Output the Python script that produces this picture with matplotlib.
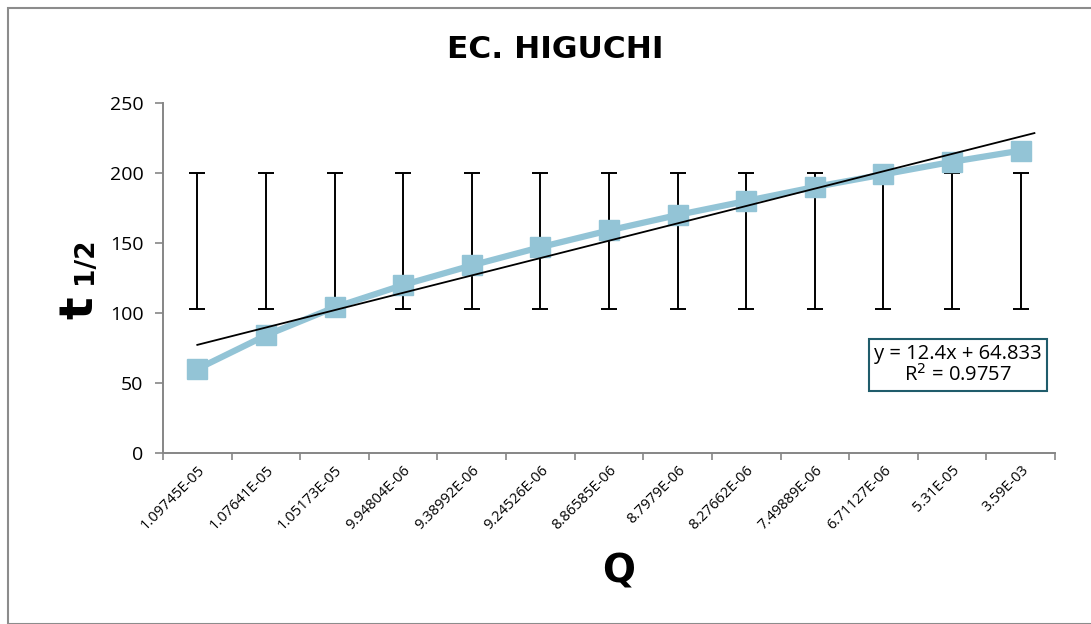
import matplotlib
matplotlib.use("Agg")
import matplotlib.pyplot as plt
import numpy as np
from matplotlib.patches import Rectangle

categories = ["1.09745E-05", "1.07641E-05", "1.05173E-05", "9.94804E-06", "9.38992E-06",
              "9.24526E-06", "8.86585E-06", "8.7979E-06", "8.27662E-06", "7.49889E-06",
              "6.71127E-06", "5.31E-05", "3.59E-03"]
t_half = [60, 84, 104, 120, 134, 147, 159, 170, 180, 190, 199, 208, 216]
err_low = [103] * 13
err_high = [200] * 13
slope = 12.4
intercept = 64.833
r2 = 0.9757

plt.rcParams['font.family'] = ['Open Sans', 'DejaVu Sans']

fig = plt.figure(figsize=(10.91, 6.24), dpi=100)
fig.patches.append(Rectangle((8/1091, 0.0), 1.2, 1 - 8/624, transform=fig.transFigure,
                             fill=False, edgecolor='#8c8c8c', linewidth=1.5))
ax = fig.add_axes([163/1091, 1 - 453/624, (1055 - 163)/1091, (453 - 103)/624])

x = np.arange(1, len(categories) + 1)
low = np.array(err_low, dtype=float)
high = np.array(err_high, dtype=float)
mid = (low + high) / 2
ax.errorbar(x, mid, yerr=(high - low) / 2, fmt='none', ecolor='black', elinewidth=1.4,
            capsize=5.5, capthick=1.4, zorder=2)

ax.plot(x, t_half, color='#93c4d6', linewidth=4.5, marker='s', markersize=14,
        markerfacecolor='#93c4d6', markeredgecolor='#93c4d6', zorder=3)

xt = np.array([1, 13.2])
ax.plot(xt, slope * xt + intercept, color='black', linewidth=1.3, zorder=4)

ax.set_xlim(0.5, len(categories) + 0.5)
ax.set_ylim(0, 250)
ax.set_yticks([0, 50, 100, 150, 200, 250])
ax.set_xticks(np.arange(0.5, len(categories) + 1, 1))
ax.set_xticklabels([])
ax.set_xticks(x, minor=True)
ax.set_xticklabels(categories, minor=True, rotation=45, ha='right', va='top',
                   rotation_mode='anchor', fontsize=10.5)
ax.tick_params(axis='x', which='minor', length=0, pad=7)
ax.tick_params(axis='x', which='major', length=5, color='#868686', width=1.2)
ax.tick_params(axis='y', length=6, color='#868686', width=1.2, labelsize=14, pad=8)
for s in ['top', 'right']:
    ax.spines[s].set_visible(False)
for s in ['left', 'bottom']:
    ax.spines[s].set_color('#868686')
    ax.spines[s].set_linewidth(1.4)

fig.text(555/1091, 1 - 49/624, "EC. HIGUCHI", ha='center', va='center',
         fontsize=22.5, fontweight='bold', family='DejaVu Sans')
fig.text(619/1091, 1 - 571/624, "Q", ha='center', va='center', fontsize=28,
         fontweight='bold', family='DejaVu Sans')
fig.text(92/1091, 1 - 319/624, "t", ha='left', va='baseline', rotation=90,
         rotation_mode='anchor', fontsize=34, fontweight='bold', family='DejaVu Sans')
fig.text(92/1091, 1 - 284/624, "1/2", ha='left', va='baseline', rotation=90,
         rotation_mode='anchor', fontsize=19, fontweight='bold', family='DejaVu Sans')

ax.text(958/1091, 1 - 365/624, "y = 12.4x + 64.833\nR$^{2}$ = 0.9757",
        transform=fig.transFigure, ha='center', va='center', fontsize=14.5,
        linespacing=0.95,
        bbox=dict(boxstyle='square,pad=0.25', facecolor='white', edgecolor='#1f5c6b', linewidth=1.5))

fig.savefig("out.png", dpi=100)
